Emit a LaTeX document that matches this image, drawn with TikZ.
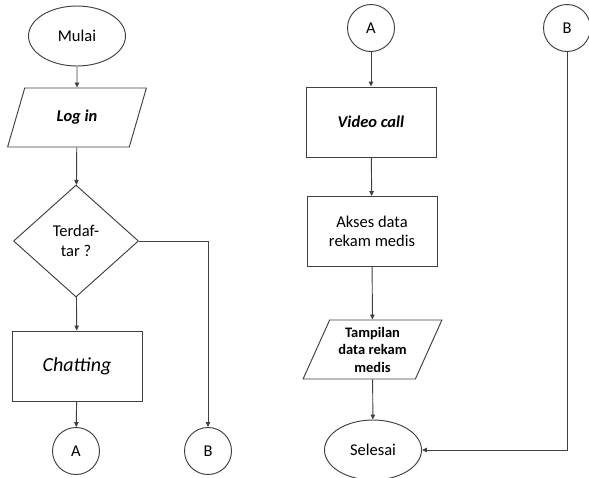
\documentclass[tikz,border=0pt]{standalone}
\usepackage{fontspec}
\setmainfont{Carlito}
\usetikzlibrary{shapes.geometric,arrows.meta}
\begin{document}
\begin{tikzpicture}[x=1pt,y=-1pt,
  ln/.style={draw=black!75, line width=0.95pt},
  arr/.style={ln, -{Triangle[length=5pt,width=4.5pt]}},
  base/.style={draw=black!75, line width=0.95pt, inner sep=0pt, align=center, font=\fontsize{16.5}{19.5}\selectfont},
  term/.style={base, ellipse, minimum width=97pt, minimum height=60pt},
  conn/.style={base, circle, minimum size=47pt},
  proc/.style={base, rectangle, minimum width=130pt, minimum height=70pt},
  io/.style={base, trapezium, trapezium left angle=65, trapezium right angle=115, trapezium stretches=true, minimum width=139pt, minimum height=59pt},
  dec/.style={base, diamond, minimum width=125pt, minimum height=112pt}
]
\useasboundingbox (0,0) rectangle (589,477);
% left column
\node[term] (mulai) at (77,36) {Mulai};
\node[io, font=\fontsize{16.5}{19.5}\selectfont\bfseries\itshape] (login) at (77,117.5) {Log in};
\node[dec] (terdaftar) at (76,241) {Terdaf-\\tar ?};
\node[proc, font=\fontsize{20}{24}\selectfont\itshape] (chat) at (77,366) {Chatting};
\node[conn] (Aout) at (76,451) {A};
\node[conn] (Bout) at (208,451) {B};
% right column
\node[conn] (Ain) at (371,28) {A};
\node[conn] (Bin) at (567,28) {B};
\node[proc, font=\fontsize{16.5}{19.5}\selectfont\bfseries\itshape] (video) at (371,122) {Video call};
\node[proc] (akses) at (372,231.5) {Akses data\\rekam medis};
\node[io, font=\fontsize{14.5}{17.5}\selectfont\bfseries] (tampil) at (372.5,349.5) {Tampilan\\data rekam\\medis};
\node[term] (selesai) at (373,450) {Selesai};
% connectors
\draw[arr] (mulai) -- (login);
\draw[arr] (login) -- (terdaftar);
\draw[arr] (terdaftar) -- (chat);
\draw[arr] (chat) -- (Aout);
\draw[arr] (terdaftar.east) -| (Bout);
\draw[arr] (Ain) -- (video);
\draw[arr] (video) -- (akses);
\draw[arr] (akses) -- (tampil);
\draw[arr] (tampil) -- (selesai);
\draw[arr] (Bin) |- (selesai);
\end{tikzpicture}
\end{document}
